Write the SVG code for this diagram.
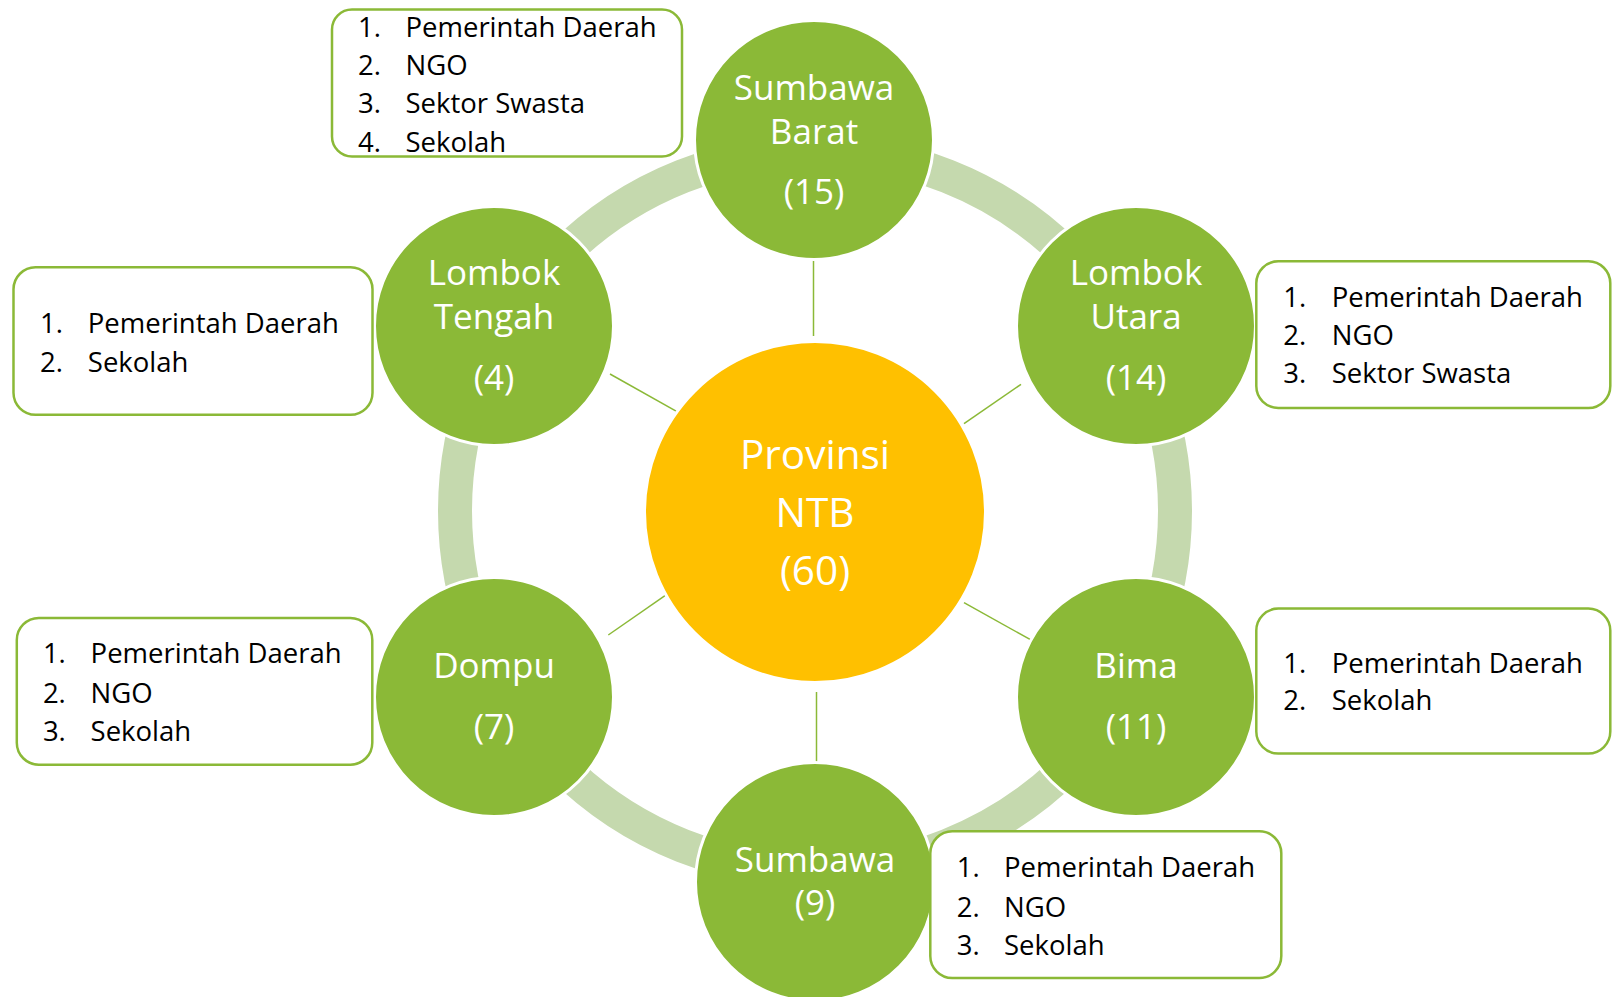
<svg xmlns="http://www.w3.org/2000/svg" width="1616" height="997" viewBox="0 0 1616 997">
<style>
.ring{fill:none;stroke:#C5D9AE;stroke-width:34}
.node{fill:#8BB937;stroke:#FFFFFF;stroke-width:3}
.hub{fill:#FFC000;stroke:#FFFFFF;stroke-width:3}
.spoke{stroke:#8BB937;stroke-width:1.5;fill:none}
.box{fill:#FFFFFF;stroke:#8BB937;stroke-width:2.5}
.lbl{font-family:"Open Sans","Liberation Sans",sans-serif;font-size:35px;fill:#FFFFFF;text-anchor:middle}
.hubl{font-family:"Open Sans","Liberation Sans",sans-serif;font-size:40.5px;fill:#FFFFFF;text-anchor:middle}
.lst{font-family:"Open Sans","Liberation Sans",sans-serif;font-size:27.5px;fill:#000000}
</style>
<rect width="1616" height="997" fill="#FFFFFF"/>
<g id="ring">
<circle class="ring" cx="815" cy="511" r="360"/>
</g>
<g id="connectors">
<line class="spoke" x1="813.5" y1="258" x2="813.5" y2="336"/>
<line class="spoke" x1="816.5" y1="692" x2="816.5" y2="764"/>
<line class="spoke" x1="610" y1="374" x2="678.3" y2="412.3"/>
<line class="spoke" x1="1021" y1="384.3" x2="964" y2="423.7"/>
<line class="spoke" x1="608.3" y1="635" x2="665" y2="595.7"/>
<line class="spoke" x1="964" y1="602.7" x2="1032.3" y2="640.7"/>
</g>
<g id="hub">
<circle class="hub" cx="815" cy="512" r="170.5"/>
<text class="hubl" x="815" y="469">Provinsi</text>
<text class="hubl" x="815" y="527">NTB</text>
<text class="hubl" x="815" y="585">(60)</text>
</g>
<g id="sumbawa-barat">
<circle class="node" cx="814" cy="140" r="119.5"/>
<text class="lbl" x="814" y="100">Sumbawa</text>
<text class="lbl" x="814" y="144">Barat</text>
<text class="lbl" x="814" y="204">(15)</text>
</g>
<g id="lombok-tengah">
<circle class="node" cx="494" cy="326" r="119.5"/>
<text class="lbl" x="494" y="285">Lombok</text>
<text class="lbl" x="494" y="329">Tengah</text>
<text class="lbl" x="494" y="390">(4)</text>
</g>
<g id="lombok-utara">
<circle class="node" cx="1136" cy="326" r="119.5"/>
<text class="lbl" x="1136" y="285">Lombok</text>
<text class="lbl" x="1136" y="329">Utara</text>
<text class="lbl" x="1136" y="390">(14)</text>
</g>
<g id="dompu">
<circle class="node" cx="494" cy="697" r="119.5"/>
<text class="lbl" x="494" y="678">Dompu</text>
<text class="lbl" x="494" y="739">(7)</text>
</g>
<g id="bima">
<circle class="node" cx="1136" cy="697" r="119.5"/>
<text class="lbl" x="1136" y="678">Bima</text>
<text class="lbl" x="1136" y="739">(11)</text>
</g>
<g id="sumbawa">
<circle class="node" cx="815" cy="882" r="119.5"/>
<text class="lbl" x="815" y="872">Sumbawa</text>
<text class="lbl" x="815" y="915">(9)</text>
</g>
<g id="list-sumbawa-barat">
<rect class="box" x="332" y="9.5" width="350" height="147" rx="20"/>
<text class="lst" y="37"><tspan x="358">1.</tspan><tspan x="405.5">Pemerintah Daerah</tspan></text>
<text class="lst" y="75"><tspan x="358">2.</tspan><tspan x="405.5">NGO</tspan></text>
<text class="lst" y="113.3"><tspan x="358">3.</tspan><tspan x="405.5">Sektor Swasta</tspan></text>
<text class="lst" y="151.7"><tspan x="358">4.</tspan><tspan x="405.5">Sekolah</tspan></text>
</g>
<g id="list-lombok-tengah">
<rect class="box" x="13.5" y="267.3" width="359" height="147.5" rx="22"/>
<text class="lst" y="332.7"><tspan x="40">1.</tspan><tspan x="87.8">Pemerintah Daerah</tspan></text>
<text class="lst" y="371.7"><tspan x="40">2.</tspan><tspan x="87.8">Sekolah</tspan></text>
</g>
<g id="list-dompu">
<rect class="box" x="16.8" y="618" width="355.5" height="146.7" rx="22"/>
<text class="lst" y="663"><tspan x="42.9">1.</tspan><tspan x="90.6">Pemerintah Daerah</tspan></text>
<text class="lst" y="702.7"><tspan x="42.9">2.</tspan><tspan x="90.6">NGO</tspan></text>
<text class="lst" y="740.7"><tspan x="42.9">3.</tspan><tspan x="90.6">Sekolah</tspan></text>
</g>
<g id="list-lombok-utara">
<rect class="box" x="1256.3" y="261.3" width="354" height="146.7" rx="22"/>
<text class="lst" y="307.3"><tspan x="1283.3">1.</tspan><tspan x="1331.7">Pemerintah Daerah</tspan></text>
<text class="lst" y="345"><tspan x="1283.3">2.</tspan><tspan x="1331.7">NGO</tspan></text>
<text class="lst" y="383.3"><tspan x="1283.3">3.</tspan><tspan x="1331.7">Sektor Swasta</tspan></text>
</g>
<g id="list-bima">
<rect class="box" x="1256.3" y="608.6" width="354" height="145" rx="22"/>
<text class="lst" y="672.7"><tspan x="1283.3">1.</tspan><tspan x="1331.7">Pemerintah Daerah</tspan></text>
<text class="lst" y="710"><tspan x="1283.3">2.</tspan><tspan x="1331.7">Sekolah</tspan></text>
</g>
<g id="list-sumbawa">
<rect class="box" x="930.3" y="831.3" width="351" height="146.7" rx="22"/>
<text class="lst" y="877.3"><tspan x="956.7">1.</tspan><tspan x="1004">Pemerintah Daerah</tspan></text>
<text class="lst" y="916.7"><tspan x="956.7">2.</tspan><tspan x="1004">NGO</tspan></text>
<text class="lst" y="955"><tspan x="956.7">3.</tspan><tspan x="1004">Sekolah</tspan></text>
</g>
</svg>
